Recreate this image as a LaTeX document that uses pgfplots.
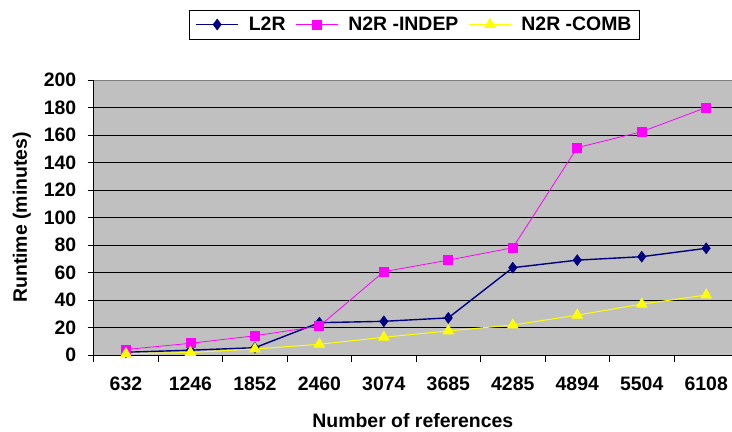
\documentclass[border=0pt]{standalone}
\usepackage{pgfplots}
\pgfplotsset{compat=1.18}
\usepackage{fontspec}
\setmainfont{Liberation Sans}
\definecolor{bggray}{RGB}{192,192,192}
\definecolor{navyc}{RGB}{0,0,128}
\definecolor{magc}{RGB}{255,0,255}
\definecolor{yelc}{RGB}{255,255,0}
\begin{document}
\begin{tikzpicture}
\path[use as bounding box] (0,0) rectangle (732bp,432bp);
\begin{axis}[
  at={(93.7bp,77bp)}, anchor=south west,
  scale only axis, width=638.3bp, height=275bp,
  xmin=-0.5, xmax=9.4, ymin=0, ymax=200,
  font=\fontsize{19.5}{22}\selectfont\bfseries,
  /pgf/number format/assume math mode=true,
  axis background/.style={fill=bggray},
  axis x line*=bottom, axis y line*=left,
  axis line style={black, line width=0.8pt},
  xtick={0,...,9},
  xticklabels={632,1246,1852,2460,3074,3685,4285,4894,5504,6108},
  major x tick style={draw=none},
  minor xtick={-0.5,0.5,...,8.5},
  minor tick length=7bp,
  ytick={0,20,...,200},
  major tick length=6bp,
  tick align=outside,
  tick style={black, line width=0.8pt},
  xticklabel style={yshift=-12bp},
  yticklabel style={xshift=-8bp},
  ymajorgrids, grid style={black, line width=0.9pt},
  xlabel={Number of references},
  ylabel={Runtime (minutes)},
  xlabel style={yshift=-16bp},
  ylabel style={yshift=6bp},
  legend columns=3,
  legend style={at={(0.5026,1.2018)}, anchor=center, draw=black, line width=0.8pt, fill=white,
    font=\fontsize{19.5}{22}\selectfont\bfseries, column sep=8bp, inner xsep=6bp, inner ysep=5bp},
  legend image code/.code={\draw[#1] (0bp,0bp) -- (42bp,0bp); \draw[#1, mark repeat=1] plot coordinates {(21bp,0bp)};},
]
\addplot[navyc, line width=1.4pt, mark=diamond*, mark size=5.5bp, mark options={solid, fill=navyc, draw=navyc, line width=0.5pt}]
  coordinates {(0,2) (1,3.5) (2,5.3) (3,23.5) (4,24.5) (5,27) (6,63.5) (7,69) (8,71.5) (9,77.6)};
\addlegendentry{L2R}
\addplot[magc, line width=0.8pt, mark=square*, mark size=4.5bp, mark options={solid, fill=magc, draw=magc}]
  coordinates {(0,4) (1,8.5) (2,14) (3,21) (4,60.6) (5,69) (6,78) (7,150.8) (8,162.4) (9,180)};
\addlegendentry{N2R -INDEP}
\addplot[yelc, line width=1pt, mark=triangle*, mark size=5.8bp, mark options={solid, fill=yelc, draw=yelc}]
  coordinates {(0,1) (1,1.8) (2,4.4) (3,7.8) (4,12.9) (5,17.5) (6,21.8) (7,29) (8,37) (9,43.6)};
\addlegendentry{N2R -COMB}
\draw[gray, line width=0.8pt] (rel axis cs:0,1) -- (rel axis cs:1,1);
\end{axis}
\end{tikzpicture}
\end{document}
